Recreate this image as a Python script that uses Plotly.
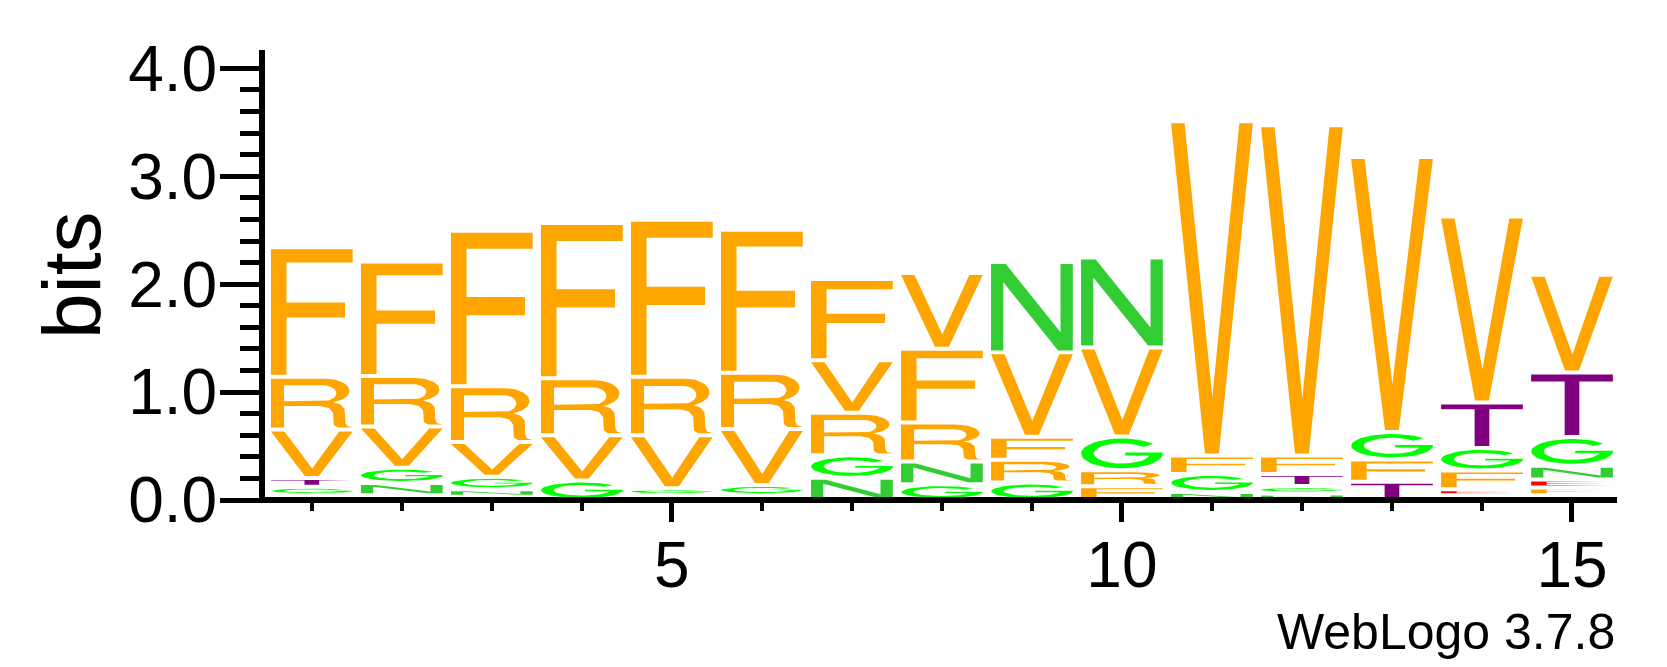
import math
import plotly.graph_objects as go

# ---------------- data (bits per letter at each position) ----------------
positions = list(range(1, 16))
F_bits = [1.2, 1.06, 1.44, 1.439, 1.455, 1.325, 0.752, 0.683, 0.214, 0.128, 0.17, 0.17, 0.205, 0.173, 0.071]
R_bits = [0.49, 0.47, 0.518, 0.528, 0.543, 0.521, 0.393, 0.362, 0.21, 0.147, 0, 0, 0, 0, 0.045]
V_bits = [0.45, 0.38, 0.321, 0.419, 0.49, 0.519, 0.488, 0.702, 0.782, 0.825, 3.097, 3.06, 2.548, 1.724, 0.906]
G_bits = [0.078, 0.143, 0.116, 0.181, 0.065, 0.095, 0.21, 0.147, 0.162, 0.313, 0.167, 0.07, 0.255, 0.21, 0.267]
N_bits = [0, 0.112, 0.07, 0, 0, 0, 0.205, 0.209, 0.837, 0.835, 0.075, 0.06, 0, 0.045, 0.127]
T_bits = [0.08, 0, 0, 0, 0, 0, 0, 0, 0, 0, 0, 0.112, 0.17, 0.421, 0.598]
E_bits = [0.045, 0.045, 0.03, 0, 0.045, 0.045, 0, 0, 0, 0, 0, 0, 0, 0.055, 0.074]

x_tick_vals = [5, 10, 15]
y_tick_vals = [0, 1, 2, 3, 4]
y_label = "bits"
credit = "WebLogo 3.7.8"

letter_bits = {"F": F_bits, "R": R_bits, "V": V_bits, "G": G_bits,
               "N": N_bits, "T": T_bits, "E": E_bits}

# ---------------- style ----------------
colors = {"F": "#FFA500", "R": "#FFA500", "V": "#FFA500", "G": "#00FF00",
          "N": "#32CD32", "T": "#800080", "E": "#FF0000"}
FONT = "Liberation Sans, Arial, Helvetica, sans-serif"
HALF_W = 0.454     # half glyph width in position units
PAD = 0.0185       # vertical gap (bits) above/below each glyph
X_RANGE = [0.48, 15.5]
Y_RANGE = [0, 4.17]
M_L, M_R, M_T, M_B = 265, 50, 50, 167
W, H = 1667, 667
PLOT_W = W - M_L - M_R
PLOT_H = H - M_T - M_B
YLINE_W = 6


def arc(cx, cy, rx, ry, a0, a1, n=30):
    pts = []
    for i in range(n + 1):
        a = math.radians(a0 + (a1 - a0) * i / n)
        pts.append((cx + rx * math.cos(a), cy + ry * math.sin(a)))
    return pts


# glyph outlines in a unit box (x: 0..1, y: 0..1); holes wound opposite
GLYPHS = {
    "F": [[(0, 0), (0.19, 0), (0.19, 0.455), (0.906, 0.455), (0.906, 0.575), (0.19, 0.575),
           (0.19, 0.894), (1, 0.894), (1, 1), (0, 1)]],
    "E": [[(0, 0), (1, 0), (1, 0.11), (0.19, 0.11), (0.19, 0.46), (0.9, 0.46), (0.9, 0.57),
           (0.19, 0.57), (0.19, 0.89), (0.95, 0.89), (0.95, 1), (0, 1)]],
    "V": [[(0, 1), (0.165, 1), (0.505, 0.17), (0.835, 1), (1, 1), (0.585, 0), (0.415, 0)]],
    "T": [[(0, 1), (1, 1), (1, 0.885), (0.59, 0.885), (0.59, 0), (0.41, 0), (0.41, 0.885), (0, 0.885)]],
    "N": [[(0, 0), (0.15, 0), (0.15, 0.79), (0.82, 0), (1, 0), (1, 1), (0.85, 1), (0.85, 0.21),
           (0.18, 1), (0, 1)]],
    "R": [[(0, 0), (0, 1), (0.66, 1)] + arc(0.66, 0.75, 0.3, 0.25, 90, -70)
          + [(0.85, 0.47), (0.9, 0.38), (0.91, 0.1), (0.93, 0.03), (1, 0), (0.82, 0), (0.77, 0.05),
             (0.76, 0.3), (0.71, 0.4), (0.6, 0.44), (0.16, 0.44), (0.16, 0)],
          [(0.16, 0.54), (0.64, 0.54)] + arc(0.64, 0.7025, 0.16, 0.1625, -90, 90)
          + [(0.64, 0.865), (0.16, 0.865)]],
    "G": [arc(0.5, 0.5, 0.5, 0.5, 40, 350, 40)
          + [(1, 0.45), (1, 0.53), (0.54, 0.53), (0.54, 0.43), (0.84, 0.43)]
          + arc(0.5, 0.5, 0.345, 0.34, -15, -320, 40)],
}

fig = go.Figure()

for i, p in enumerate(positions):
    stack = [(L, vals[i]) for L, vals in letter_bits.items() if vals[i] > 0]
    stack.sort(key=lambda t: t[1])
    y0 = 0.0
    for L, h in stack:
        sy = h - 2 * PAD
        if sy > 0:
            xs, ys = [], []
            for poly in GLYPHS[L]:
                for gx, gy in poly + [poly[0]]:
                    xs.append(p - HALF_W + gx * 2 * HALF_W)
                    ys.append(y0 + PAD + gy * sy)
                xs.append(None)
                ys.append(None)
            fig.add_trace(go.Scatter(x=xs, y=ys, mode="lines", fill="toself",
                                     fillcolor=colors[L], line=dict(width=0, color=colors[L]),
                                     hoverinfo="skip", showlegend=False))
        y0 += h

axis_font = dict(family=FONT, size=64, color="black")

fig.update_layout(
    width=W, height=H, autosize=False,
    margin=dict(l=M_L, r=M_R, t=M_T, b=M_B, pad=0),
    plot_bgcolor="white", paper_bgcolor="white", showlegend=False,
    xaxis=dict(range=X_RANGE, tickmode="array", tickvals=x_tick_vals,
               ticktext=[str(v) for v in x_tick_vals],
               ticks="outside", ticklen=21, tickwidth=5, tickcolor="black",
               showline=False, showgrid=False, zeroline=False, tickfont=axis_font,
               ticklabelstandoff=-12,
               minor=dict(tickmode="linear", tick0=0, dtick=1, ticks="outside", ticklen=10,
                          tickwidth=4, tickcolor="black", showgrid=False)),
    yaxis=dict(range=Y_RANGE, tickmode="array", tickvals=y_tick_vals,
               ticktext=[f"{v:.1f}" for v in y_tick_vals],
               ticks="outside", ticklen=39, tickwidth=5, tickcolor="black",
               showline=True, linewidth=YLINE_W, linecolor="black",
               showgrid=False, zeroline=False, tickfont=axis_font, ticklabelstandoff=-10,
               minor=dict(tickmode="linear", tick0=0, dtick=0.2, ticks="outside", ticklen=19,
                          tickwidth=5, tickcolor="black", showgrid=False)),
)

# x-axis baseline bar (centred on y = 0, covering the stack bottoms)
fig.add_shape(type="line", xref="paper", yref="paper", x0=-YLINE_W / PLOT_W, x1=1, y0=0, y1=0,
              line=dict(color="black", width=6), layer="above")

fig.add_annotation(text=y_label, textangle=-90, xref="paper", yref="paper",
                   x=(71 - M_L) / PLOT_W, y=0.5, xanchor="center", yanchor="middle",
                   showarrow=False, font=dict(family=FONT, size=82, color="black"))
fig.add_annotation(text=credit, xref="paper", yref="paper", x=1, y=(M_T + PLOT_H - 632) / PLOT_H,
                   xanchor="right", yanchor="middle", showarrow=False,
                   font=dict(family=FONT, size=50, color="black"))

fig.write_html("out.html")
